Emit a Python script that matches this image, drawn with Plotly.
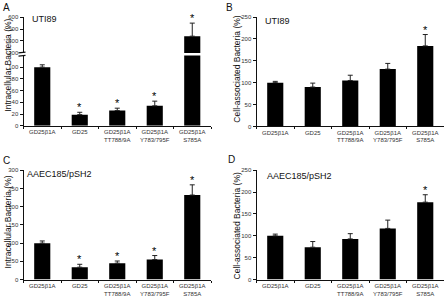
import plotly.graph_objects as go

# ---------------- data ----------------
categories = ["GD25β1A", "GD25", "GD25β1A<br>TT788/9A", "GD25β1A<br>Y783/795F", "GD25β1A<br>S785A"]

a_values = [100, 19, 26, 34, 440]
a_errors = [4, 4, 4, 8, 109]
a_stars = [False, True, True, True, True]

b_values = [100, 90, 105, 131, 184]
b_errors = [3, 9, 12, 13, 26]
b_stars = [False, False, False, False, True]

c_values = [100, 34, 45, 55, 232]
c_errors = [6, 8, 6, 11, 28]
c_stars = [False, True, True, True, True]

d_values = [100, 74, 93, 117, 177]
d_errors = [4, 13, 12, 19, 17]
d_stars = [False, False, False, False, True]

a_low_ticks = [0, 20, 40, 60, 80, 100]
a_high_ticks = [300, 400, 500, 600]

W, H = 446, 297
FONT = "Arial, Liberation Sans, sans-serif"
def px(x): return x / W
def py(y): return 1 - y / H

BREAK_LOW_TOP = 120   # top of lower part of broken axis
BREAK_HIGH_BOT = 300  # bottom of upper part

fig = go.Figure()

def add_bars(vals, errs, xa, ya, lo=None, hi=None):
    e = []
    for v, er in zip(vals, errs):
        top = v + er
        ok = True
        if lo is not None and v < lo:
            ok = False
        if hi is not None and top > hi:
            ok = False
        e.append(er if ok else 0)
    fig.add_trace(go.Bar(
        x=categories, y=vals, xaxis=xa, yaxis=ya, width=0.43,
        marker=dict(color="black", line=dict(width=0)),
        error_y=dict(type="data", symmetric=False, array=e,
                     arrayminus=[0] * len(vals), color="#222",
                     thickness=1, width=2.5),
        showlegend=False, hoverinfo="skip"))

def add_stars(vals, errs, stars, xa, ya, lo=None, hi=None):
    for c, v, er, s in zip(categories, vals, errs, stars):
        if not s:
            continue
        top = v + er
        if lo is not None and top < lo:
            continue
        if hi is not None and top > hi:
            continue
        fig.add_annotation(x=c, y=top, xref=xa, yref=ya, text="*",
                           showarrow=False, yanchor="bottom", yshift=-3,
                           font=dict(size=11, color="#000000", family=FONT))

# Panel A (broken axis)
add_bars(a_values, a_errors, "x", "y", hi=BREAK_LOW_TOP)
add_bars(a_values, a_errors, "x", "y2", lo=BREAK_HIGH_BOT)
add_stars(a_values, a_errors, a_stars, "x", "y", hi=BREAK_LOW_TOP)
add_stars(a_values, a_errors, a_stars, "x", "y2", lo=BREAK_HIGH_BOT)
# Panel B
add_bars(b_values, b_errors, "x3", "y3")
add_stars(b_values, b_errors, b_stars, "x3", "y3")
# Panel C
add_bars(c_values, c_errors, "x4", "y4")
add_stars(c_values, c_errors, c_stars, "x4", "y4")
# Panel D
add_bars(d_values, d_errors, "x5", "y5")
add_stars(d_values, d_errors, d_stars, "x5", "y5")

tickfont = dict(size=6, color="#333", family=FONT)
def xax(dom, anchor):
    return dict(domain=dom, anchor=anchor, type="category", showline=True,
                linecolor="#111", linewidth=1, ticks="outside", ticklen=2,
                tickcolor="#111", tickson="boundaries", tickfont=tickfont,
                showgrid=False, zeroline=False, fixedrange=True, tickangle=0)
def yax(dom, anchor, rng, tickvals):
    return dict(domain=dom, anchor=anchor, range=rng, tickvals=tickvals,
                showline=True, linecolor="#111", linewidth=1, ticks="outside",
                ticklen=3, tickcolor="#111", tickfont=tickfont, showgrid=False,
                zeroline=False, fixedrange=True)

xl = [px(23.5), px(211)]
xr = [px(256.5), px(444)]

fig.update_layout(
    width=W, height=H, margin=dict(l=0, r=0, t=0, b=0),
    paper_bgcolor="white", plot_bgcolor="white", bargap=0.5,
    font=dict(family=FONT),
    xaxis=xax(xl, "y"),
    yaxis=yax([py(125.3), py(53.5)], "x", [0, BREAK_LOW_TOP], a_low_ticks),
    yaxis2=yax([py(51), py(14.3)], "x", [BREAK_HIGH_BOT, 600], a_high_ticks),
    xaxis3=xax(xr, "y3"),
    yaxis3=yax([py(126), py(14.3)], "x3", [0, 250], [0, 50, 100, 150, 200, 250]),
    xaxis4=xax(xl, "y4"),
    yaxis4=yax([py(282.3), py(170.7)], "x4", [0, 300], [0, 50, 100, 150, 200, 250, 300]),
    xaxis5=xax(xr, "y5"),
    yaxis5=yax([py(282.3), py(170.7)], "x5", [0, 250], [0, 50, 100, 150, 200, 250]),
)

# axis-break marks on panel A
for yy in (50.6, 53.8):
    fig.add_shape(type="line", xref="paper", yref="paper",
                  x0=px(18.5), x1=px(25.5), y0=py(yy + 0.4), y1=py(yy - 0.4),
                  line=dict(color="#111", width=1.2))

def note(x, y, text, size, **kw):
    fig.add_annotation(x=px(x), y=py(y), xref="paper", yref="paper", text=text,
                       showarrow=False, font=dict(size=size, color="#111", family=FONT), **kw)

# panel letters
note(1, 5, "A", 10, xanchor="left", yanchor="middle")
note(224, 5, "B", 10, xanchor="left", yanchor="middle")
note(1, 161, "C", 10, xanchor="left", yanchor="middle")
note(226, 160, "D", 10, xanchor="left", yanchor="middle")
# inner labels
note(30, 16.7, "UTI89", 9, xanchor="left", yanchor="middle")
note(263, 18.3, "UTI89", 9, xanchor="left", yanchor="middle")
note(25, 174.7, "AAEC185/pSH2", 9, xanchor="left", yanchor="middle")
note(265, 177, "AAEC185/pSH2", 9, xanchor="left", yanchor="middle")
# y titles
note(8, 64, "Intracellular Bacteria (%)", 8.5, textangle=-90, xanchor="center", yanchor="middle")
note(237, 68, "Cell-associated Bacteria (%)", 8.5, textangle=-90, xanchor="center", yanchor="middle")
note(8, 224, "Intracellular Bacteria (%)", 8.5, textangle=-90, xanchor="center", yanchor="middle")
note(237, 228, "Cell-associated Bacteria (%)", 8.5, textangle=-90, xanchor="center", yanchor="middle")

fig.write_html("out.html", config={"displayModeBar": False},
               post_script="document.body.style.margin='0';document.body.style.padding='0';")
